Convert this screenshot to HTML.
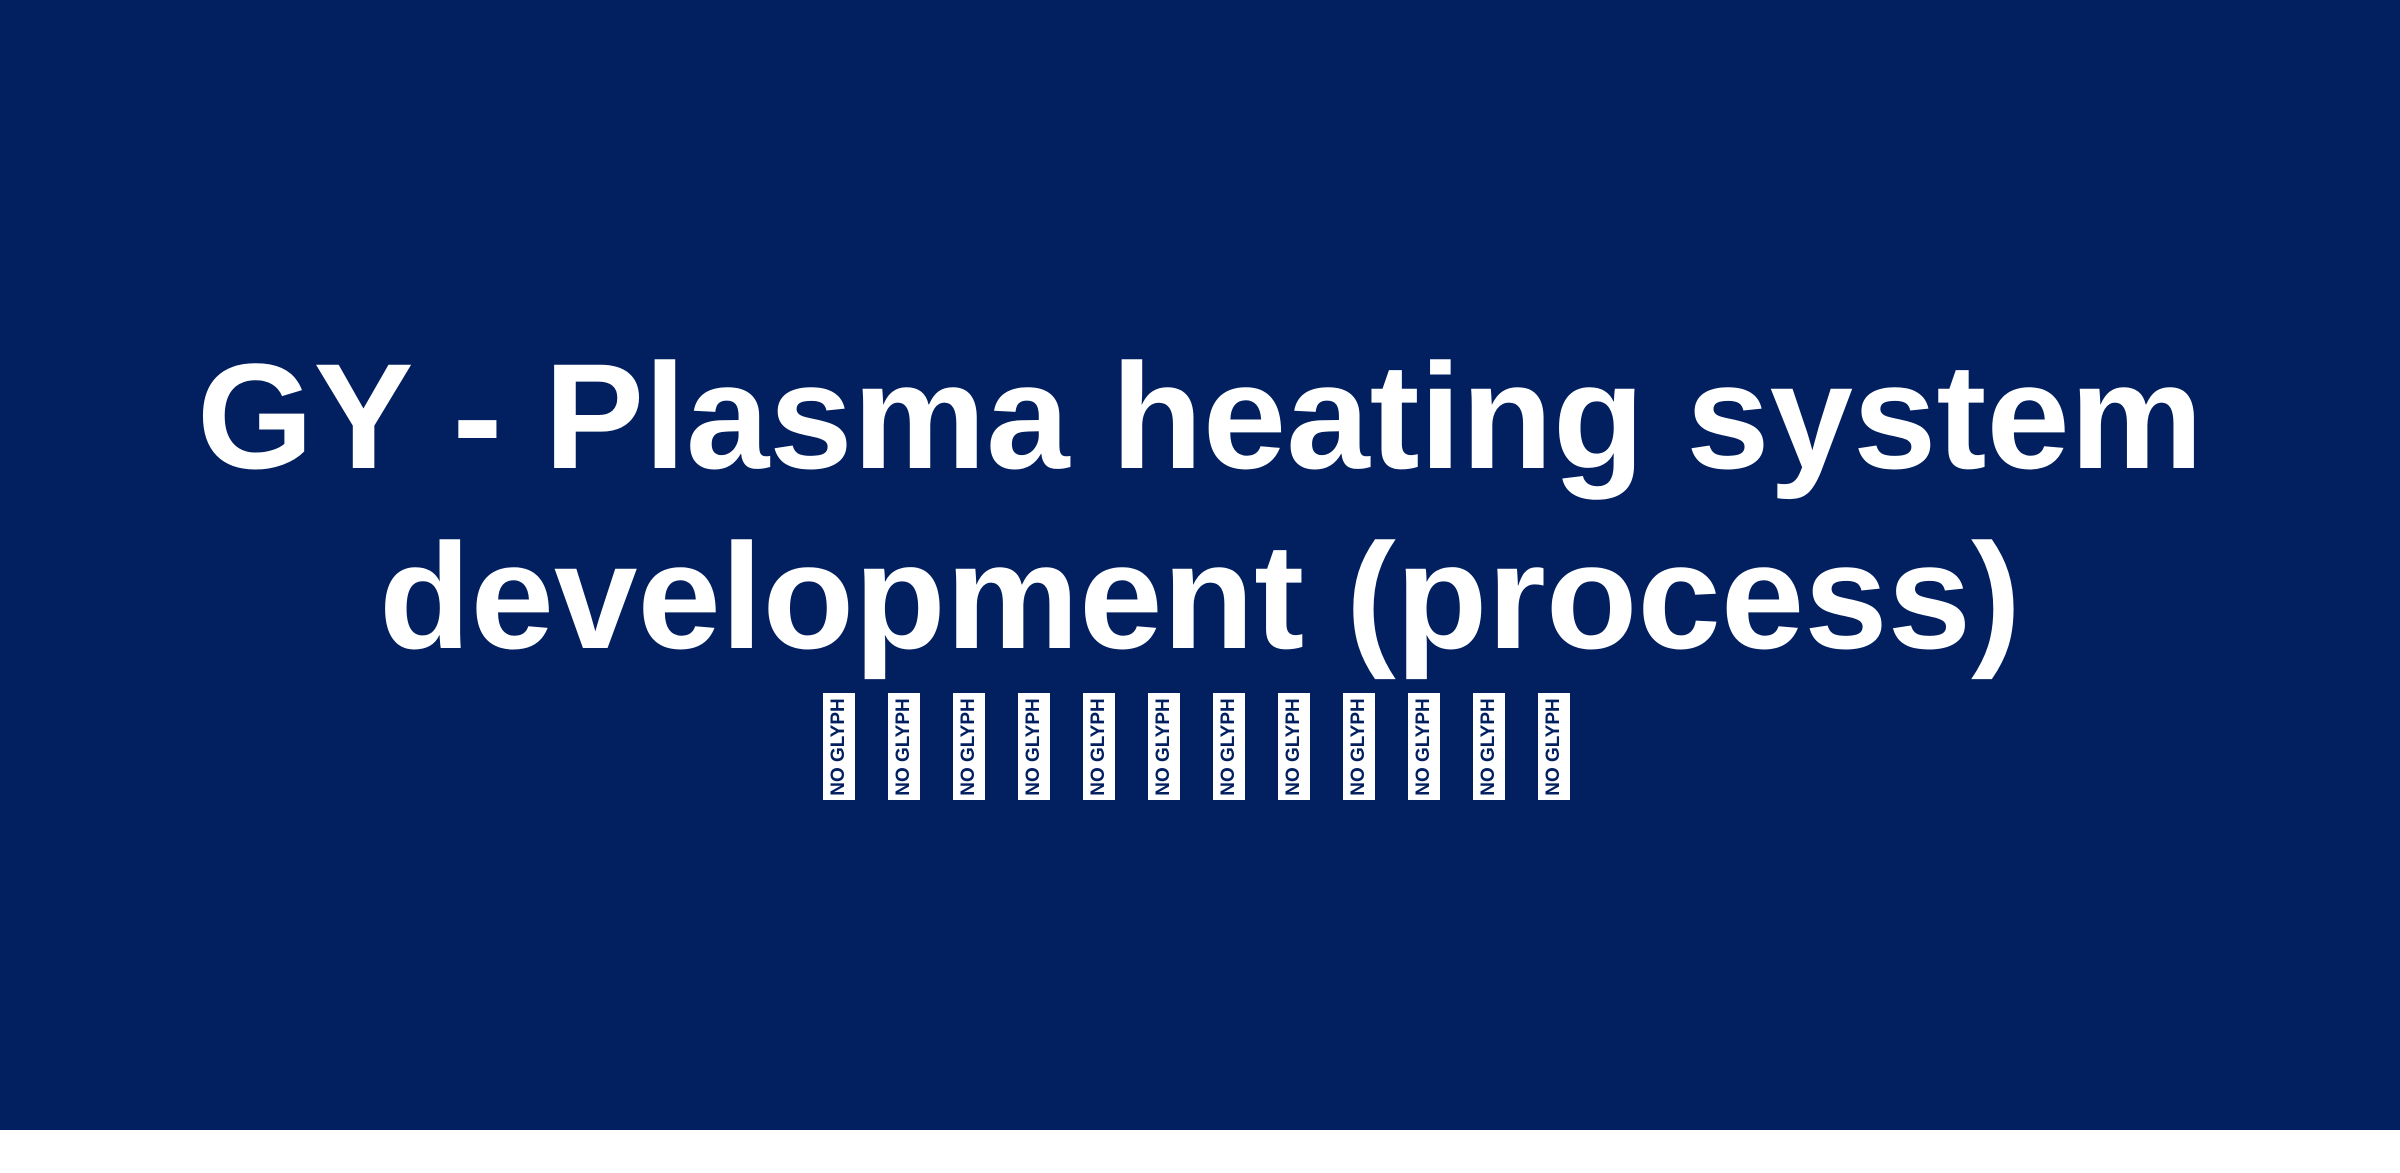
<!DOCTYPE html>
<html><head><meta charset="utf-8"><style>
html,body{margin:0;padding:0;}
body{width:2400px;height:1173px;background:#fff;position:relative;overflow:hidden;font-family:"Liberation Sans",Arial,sans-serif;}
.bg{position:absolute;left:0;top:0;width:2400px;height:1130px;background:#022060;}
.t{position:absolute;left:0;width:2400px;text-align:center;color:#fff;font-weight:bold;font-size:150px;line-height:150px;white-space:nowrap;}
.b{position:absolute;top:693px;width:32px;height:107px;background:#fff;}
.b span{position:absolute;left:50%;top:50%;transform:translate(-50%,-50%) rotate(-90deg);color:#022060;font-size:19px;font-weight:bold;white-space:nowrap;letter-spacing:0;}
</style></head><body>
<div class="bg"></div>
<div class="t" style="top:341px">GY - Plasma heating system</div>
<div class="t" style="top:521px">development (process)</div>
<div class="b" style="left:823px"><span>NO GLYPH</span></div>
<div class="b" style="left:888px"><span>NO GLYPH</span></div>
<div class="b" style="left:953px"><span>NO GLYPH</span></div>
<div class="b" style="left:1018px"><span>NO GLYPH</span></div>
<div class="b" style="left:1083px"><span>NO GLYPH</span></div>
<div class="b" style="left:1148px"><span>NO GLYPH</span></div>
<div class="b" style="left:1213px"><span>NO GLYPH</span></div>
<div class="b" style="left:1278px"><span>NO GLYPH</span></div>
<div class="b" style="left:1343px"><span>NO GLYPH</span></div>
<div class="b" style="left:1408px"><span>NO GLYPH</span></div>
<div class="b" style="left:1473px"><span>NO GLYPH</span></div>
<div class="b" style="left:1538px"><span>NO GLYPH</span></div>
</body></html>
